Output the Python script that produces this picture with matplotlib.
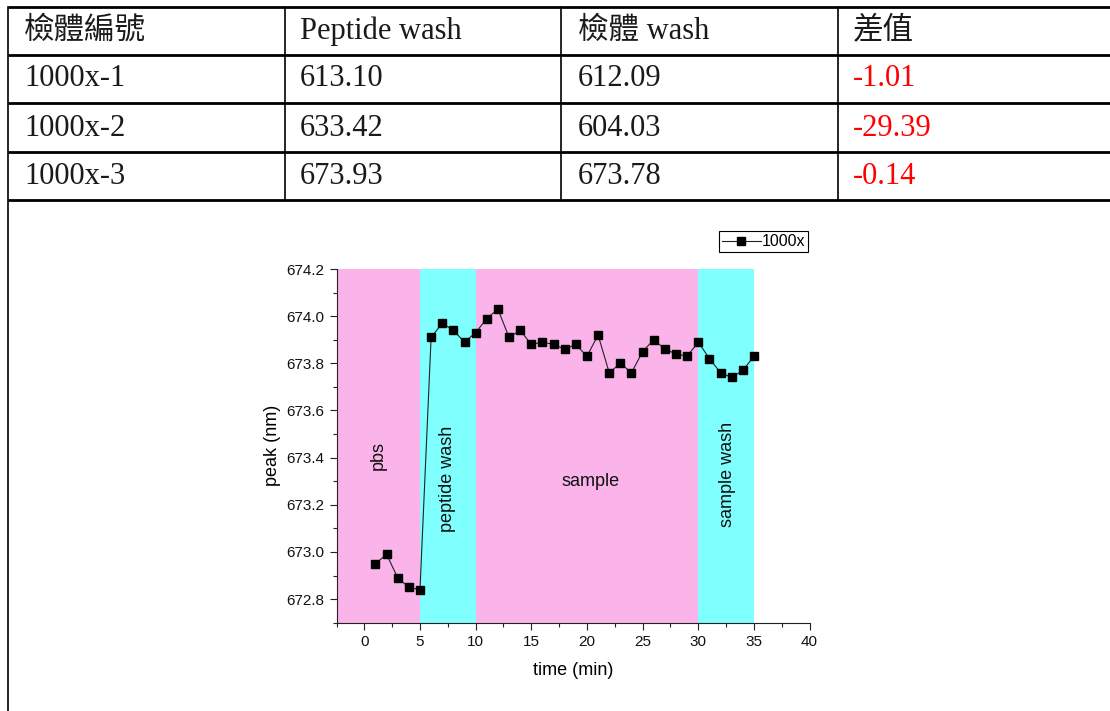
import numpy as np
import matplotlib
matplotlib.use("Agg")
from matplotlib import pyplot as plt

# table contents
header = ["檢體編號", "Peptide wash", "檢體 wash", "差值"]
sample_ids = ["1000x-1", "1000x-2", "1000x-3"]
peptide_wash = ["613.10", "633.42", "673.93"]
sample_wash = ["612.09", "604.03", "673.78"]
diffs = ["-1.01", "-29.39", "-0.14"]

# chart data
time_min = list(range(1, 36))
peak_nm = [672.95, 672.99, 672.89, 672.85, 672.84,
           673.91, 673.97, 673.94, 673.89, 673.93,
           673.99, 674.03, 673.91, 673.94, 673.88, 673.89, 673.88, 673.86,
           673.88, 673.83, 673.92, 673.76, 673.80, 673.76, 673.85, 673.90,
           673.86, 673.84, 673.83, 673.89,
           673.82, 673.76, 673.74, 673.77, 673.83]

# phases: (start, end, label, colour)
phase_start = [-2.5, 5, 10, 30]
phase_end = [5, 10, 30, 35]
phase_names = ["pbs", "peptide wash", "sample", "sample wash"]
phase_colors = ["#FAB4E9", "#80FFFF", "#FAB4E9", "#80FFFF"]
label_x = [1.25, 7.5, 20.3, 32.6]
label_y = [673.41, 673.31, 673.30, 673.33]
label_rot = [90, 90, 0, 90]

W, H = 1110, 711
fig = plt.figure(figsize=(W / 100, H / 100), dpi=100)

# ---- table drawn on a pixel-coordinate overlay ----
tab = fig.add_axes([0, 0, 1, 1])
tab.set_xlim(0, W)
tab.set_ylim(H, 0)
tab.axis("off")

row_lines = [7, 55, 103, 152, 200]
col_lines = [8, 285, 561, 838]
text_x = [24, 300, 578, 853]
text_y = [31, 79, 128, 176]

for y in row_lines:
    tab.plot([col_lines[0], W], [y, y], color="black", lw=2.0, solid_capstyle="butt")
for x in col_lines[1:]:
    tab.plot([x, x], [row_lines[0], row_lines[-1]], color="black", lw=1.2)
tab.plot([col_lines[0], col_lines[0]], [row_lines[0], H], color="black", lw=1.2)

fam = ["Liberation Serif", "Noto Sans CJK TC"]
for j, h in enumerate(header):
    tab.text(text_x[j], text_y[0], h, fontsize=22, family=fam, va="center", ha="left",
             color="#1a1a1a")
for i in range(len(sample_ids)):
    cells = [sample_ids[i], peptide_wash[i], sample_wash[i], diffs[i]]
    for j, c in enumerate(cells):
        tab.text(text_x[j], text_y[i + 1], c, fontsize=22, family=fam, va="center",
                 ha="left", color="red" if j == 3 else "#1a1a1a")

# ---- chart ----
ax = fig.add_axes([336.5 / W, 1 - 622.7 / H, (809.6 - 336.5) / W, (622.7 - 269) / H])
ax.set_facecolor("none")
for s, e, c in zip(phase_start, phase_end, phase_colors):
    ax.axvspan(s, e, color=c, lw=0, zorder=0)

ax.plot(time_min, peak_nm, color="#222222", lw=0.8, marker="s", markersize=6.3,
        markerfacecolor="black", markeredgecolor="black", label="1000x", zorder=3)

for n, lx, ly, r in zip(phase_names, label_x, label_y, label_rot):
    ax.text(lx, ly, n, rotation=r, ha="center", va="center", fontsize=13,
            family="Liberation Sans", color="#111111")

ax.set_xlim(-2.5, 40)
ax.set_ylim(672.7, 674.2)
ax.set_xticks(np.arange(0, 41, 5))
ax.set_xticks(np.arange(-2.5, 41, 2.5), minor=True)
ax.set_yticks(np.arange(672.8, 674.21, 0.2))
ax.set_yticks(np.arange(672.7, 674.21, 0.1), minor=True)
ax.set_yticklabels(["%.1f" % v for v in np.arange(672.8, 674.21, 0.2)])
ax.tick_params(which="both", direction="out", labelsize=11, width=0.8, color="#222222",
               labelcolor="#111111")
ax.tick_params(which="major", length=5)
ax.tick_params(which="minor", length=3)
for lab in ax.get_xticklabels() + ax.get_yticklabels():
    lab.set_family("Liberation Sans")
for side in ["top", "right"]:
    ax.spines[side].set_visible(False)
for side in ["left", "bottom"]:
    ax.spines[side].set_linewidth(0.8)
    ax.spines[side].set_color("#222222")

ax.set_xlabel("time (min)", fontsize=13, family="Liberation Sans", labelpad=10)
ax.set_ylabel("peak (nm)", fontsize=13, family="Liberation Sans", labelpad=4)

leg = ax.legend(loc="upper right", bbox_to_anchor=(808 / W, 1 - 231 / H),
                bbox_transform=fig.transFigure, fancybox=False, framealpha=1,
                edgecolor="black", borderaxespad=0, borderpad=0.2, handlelength=2.4,
                handletextpad=0.05, prop={"family": "Liberation Sans", "size": 11.5})
leg.get_frame().set_linewidth(0.8)

fig.savefig("out.png", dpi=100)
